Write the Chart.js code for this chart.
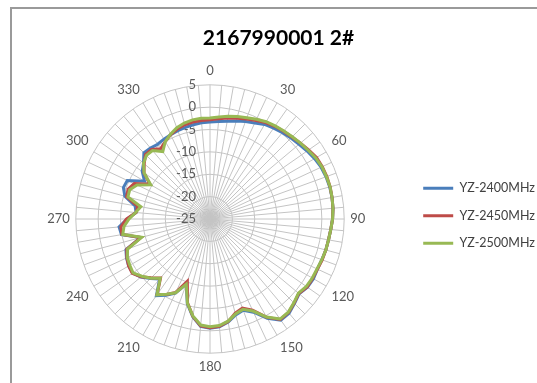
<!DOCTYPE html>
<html>
<head>
<meta charset="utf-8">
<script src="https://cdn.jsdelivr.net/npm/chart.js@4.4.0/dist/chart.umd.min.js"></script>
<style>
  html, body { margin: 0; padding: 0; background: #fff; }
  #wrap { position: relative; width: 537px; height: 383px; overflow: hidden; }
  #frame { position: absolute; left: 10px; top: 7px; width: 600px; height: 500px;
           border-top: 2px solid #9a9a9a; border-left: 2px solid #9a9a9a; }
  canvas { position: absolute; left: 0; top: 0; }
</style>
</head>
<body>
<div id="wrap">
  <div id="frame"></div>
  <canvas id="chart" width="537" height="383"></canvas>
</div>
<script>
// angle categories (degrees), only every 30 is shown
const angles = [0, 5, 10, 15, 20, 25, 30, 35, 40, 45, 50, 55, 60, 65, 70, 75, 80, 85,
  90, 95, 100, 105, 110, 115, 120, 125, 130, 135, 140, 145, 150, 155, 160, 165, 170, 175,
  180, 185, 190, 195, 200, 205, 210, 215, 220, 225, 230, 235, 240, 245, 250, 255, 260, 265,
  270, 275, 280, 285, 290, 295, 300, 305, 310, 315, 320, 325, 330, 335, 340, 345, 350, 355];

const yz2400 = [-3.3, -3.1, -2.8, -2.3, -1.8, -1.3, -0.6, -0.2, 0.2, 0.6, 1.0, 1.5,
  2.0, 2.4, 2.6, 2.7, 2.7, 2.6, 2.4, 2.1, 1.9, 1.8, 1.6, 1.5,
  1.7, 1.6, 1.0, 1.7, 2.5, 2.6, 0.6, -2.0, -3.3, -2.8, -1.6, -0.8,
  -0.6, -0.9, -2.8, -5.4, -9.5, -6.7, -5.3, -4.1, -7.5, -6.2, -4.8, -3.9,
  -4.0, -4.4, -5.0, -9.0, -4.9, -4.6, -6.5, -8.4, -8.0, -5.3, -4.4, -4.6,
  -8.1, -6.5, -5.6, -4.1, -4.3, -4.6, -4.4, -4.2, -4.0, -3.8, -3.6, -3.4];

const yz2450 = [-2.8, -2.5, -2.1, -1.7, -1.2, -0.7, -0.1, 0.3, 0.6, 0.9, 1.4, 1.9,
  2.5, 2.7, 2.8, 2.8, 2.7, 2.6, 2.4, 2.1, 1.9, 1.8, 1.7, 1.5,
  1.5, 1.5, 0.9, 1.6, 2.3, 2.4, 0.4, -2.5, -3.8, -3.2, -1.7, -0.9,
  -0.7, -1.0, -2.9, -5.6, -10.2, -6.9, -5.5, -4.4, -7.8, -6.4, -4.9, -3.8,
  -4.0, -4.5, -5.2, -9.0, -5.0, -5.0, -6.3, -8.4, -8.6, -5.7, -5.5, -6.3,
  -9.5, -7.0, -5.8, -4.6, -4.7, -5.8, -5.0, -4.2, -3.6, -3.2, -3.0, -2.9];

const yz2500 = [-2.4, -2.1, -1.7, -1.3, -0.9, -0.4, 0.1, 0.4, 0.7, 1.0, 1.4, 1.8,
  2.3, 2.6, 2.7, 2.8, 2.7, 2.6, 2.4, 2.1, 1.9, 1.8, 1.6, 1.4,
  1.4, 1.3, 0.8, 1.5, 2.2, 2.3, 0.3, -2.3, -3.5, -3.0, -1.8, -1.1,
  -0.9, -1.2, -3.0, -5.5, -9.5, -6.8, -5.6, -4.3, -7.7, -6.3, -5.1, -4.0,
  -4.3, -4.6, -5.4, -9.2, -5.2, -5.7, -6.9, -8.3, -9.3, -6.0, -5.9, -7.0,
  -9.7, -7.0, -5.6, -4.9, -5.0, -6.6, -5.0, -4.1, -3.3, -2.8, -2.5, -2.4];

const seriesNames = ['YZ-2400MHz', 'YZ-2450MHz', 'YZ-2500MHz'];
const seriesColors = ['#4a7ebb', '#be4b48', '#98b954'];

// tick labels drawn right-aligned left of the vertical spoke, like Excel does
const tickLabels = {
  id: 'tickLabels',
  beforeDatasetsDraw(chart) {
    const scale = chart.scales.r;
    const ctx = chart.ctx;
    ctx.save();
    ctx.font = '13px Lato';
    ctx.fillStyle = '#595959';
    ctx.textAlign = 'right';
    ctx.textBaseline = 'middle';
    scale.ticks.forEach(t => {
      const d = scale.getDistanceFromCenterForValue(t.value);
      ctx.fillText(t.label, scale.xCenter - 14, scale.yCenter - d);
    });
    ctx.restore();
  }
};

const ctx = document.getElementById('chart').getContext('2d');
new Chart(ctx, {
  type: 'radar',
  data: {
    labels: angles,
    datasets: [yz2400, yz2450, yz2500].map((d, i) => ({
      label: seriesNames[i],
      data: d,
      borderColor: seriesColors[i],
      backgroundColor: seriesColors[i],
      borderWidth: 3,
      fill: false,
      pointRadius: 0,
      tension: 0,
      order: 3 - i   // green on top
    }))
  },
  options: {
    responsive: false,
    animation: false,
    layout: { padding: { left: 12, right: -8, top: 0, bottom: 8 } },
    scales: {
      r: {
        min: -25,
        max: 5,
        ticks: { stepSize: 5, display: false },
        grid: { circular: true, color: '#c4c4c4', lineWidth: 1 },
        angleLines: { color: '#c4c4c4', lineWidth: 1 },
        pointLabels: {
          padding: 6,
          color: '#595959',
          font: { family: 'Lato', size: 13 },
          callback: (label, i) => (i % 6 === 0 ? String(label) : '')
        }
      }
    },
    plugins: {
      title: {
        display: true,
        text: '2167990001 2#',
        color: '#000',
        font: { family: 'Lato', size: 21, weight: 'bold' },
        padding: { top: 26, bottom: 12 }
      },
      legend: {
        position: 'right',
        title: { display: true, text: '', padding: { top: 42, bottom: 0 }, font: { size: 12 } },
        labels: {
          usePointStyle: true,
          pointStyle: 'line',
          pointStyleWidth: 30,
          color: '#404040',
          font: { family: 'Lato', size: 12.5 },
          padding: 15,
          sort: (a, b) => a.datasetIndex - b.datasetIndex
        }
      },
      tooltip: { enabled: false }
    }
  },
  plugins: [tickLabels]
});
</script>
</body>
</html>
